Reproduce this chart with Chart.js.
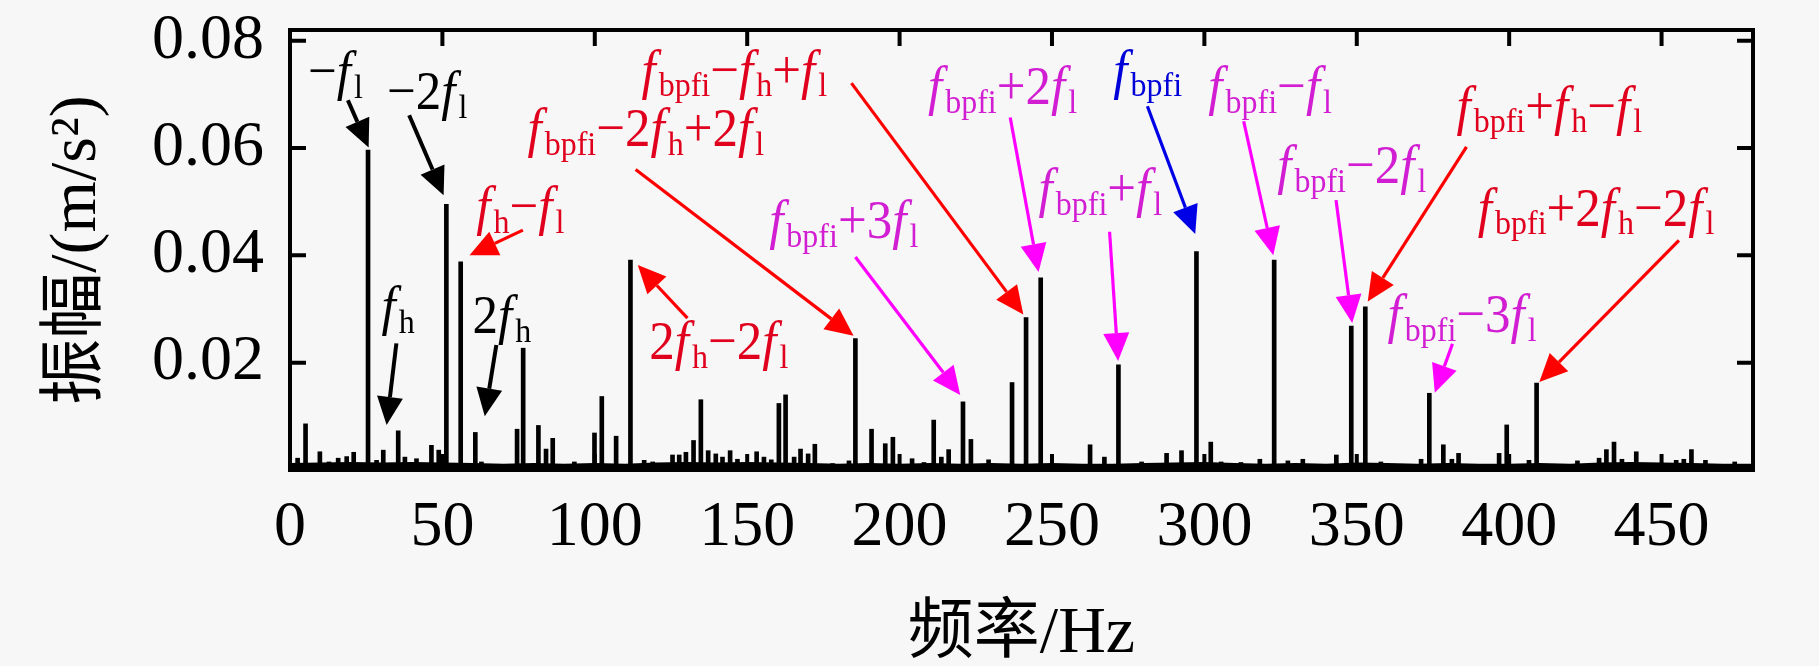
<!DOCTYPE html>
<html>
<head>
<meta charset="utf-8">
<script src="https://cdn.jsdelivr.net/npm/chart.js@4.4.0/dist/chart.umd.min.js"></script>
<style>
  html, body { margin: 0; padding: 0; background: #f7f7f7; }
  canvas { display: block; }
</style>
</head>
<body>
<canvas id="spectrumChart" width="1819" height="666"></canvas>
<script>
// spectrum lines (Hz / m/s^2)
const peakFreqs = [2.5, 5.1, 9.8, 12.8, 15.8, 18.6, 20.9, 25.6, 28.4, 30.6, 35.5, 37.7, 41.5, 46.4, 48.8,
  51.3, 56.0, 60.8, 62.8, 74.5, 76.5, 81.5, 84.0, 86.2, 93.3, 99.9, 102.3, 107.0, 111.7, 116.2, 119.0,
  125.5, 127.7, 129.9, 132.4, 134.8, 137.2, 139.7, 141.9, 144.4, 146.8, 153.1, 155.5, 157.9, 160.4,
  162.6, 165.4, 167.5, 170.0, 172.2, 178.0, 183.4, 185.5, 190.8, 195.3, 197.8, 204.1, 208.0, 211.2,
  213.7, 216.1, 220.8, 223.4, 229.2, 236.9, 241.5, 246.3, 262.5, 267.2, 271.8, 279.4, 287.6, 292.5,
  297.4, 302.1, 305.5, 312.0, 318.2, 322.9, 327.4, 332.3, 343.3, 348.2, 352.8, 357.9, 371.1, 373.8,
  378.4, 381.2, 383.4, 396.7, 399.2, 406.5, 409.0, 422.4, 429.5, 431.9, 434.4, 437.0, 441.7, 454.8,
  457.3, 459.8, 464.4, 474.0];
const peakAmps = [0.0022, 0.0086, 0.0034, 0.0015, 0.0022, 0.0025, 0.0033, 0.0596, 0.0018, 0.0037, 0.0073, 0.0024, 0.0021, 0.0046, 0.0037,
  0.0495, 0.0388, 0.0070, 0.0015, 0.0076, 0.0227, 0.0083, 0.0039, 0.0059, 0.0015, 0.0069, 0.0137, 0.0063, 0.0391, 0.0018, 0.0015,
  0.0028, 0.0028, 0.0033, 0.0055, 0.0131, 0.0036, 0.0030, 0.0024, 0.0036, 0.0020, 0.0034, 0.0024, 0.0019, 0.0124,
  0.0140, 0.0024, 0.0039, 0.0030, 0.0048, 0.0012, 0.0017, 0.0245, 0.0076, 0.0049, 0.0061, 0.0021, 0.0014, 0.0093,
  0.0024, 0.0038, 0.0127, 0.0057, 0.0019, 0.0163, 0.0284, 0.0358, 0.0047, 0.0024, 0.0196, 0.0015, 0.0031, 0.0036,
  0.0407, 0.0052, 0.0015, 0.0014, 0.0020, 0.0391, 0.0017, 0.0020, 0.0028, 0.0268, 0.0304, 0.0015, 0.0020, 0.0143,
  0.0047, 0.0020, 0.0031, 0.0031, 0.0084, 0.0018, 0.0162, 0.0017, 0.0022, 0.0038, 0.0052, 0.0020, 0.0034, 0.0018,
  0.0020, 0.0038, 0.0018, 0.0015];

// noise floor along the bottom
const floorFreqs = [0, 10, 20, 30, 40, 50, 60, 70, 80, 90, 100, 110, 120, 130, 140, 150, 160, 170, 180, 190,
  200, 210, 220, 230, 240, 250, 260, 270, 280, 290, 300, 310, 320, 330, 340, 350, 360, 370, 380, 390,
  400, 410, 420, 430, 440, 450, 460, 470, 480];
const floorAmps = [0.0011, 0.0012, 0.0013, 0.0012, 0.0013, 0.0012, 0.0011, 0.0010, 0.0011, 0.0010, 0.0011, 0.0010, 0.0012, 0.0013, 0.0012, 0.0013, 0.0012, 0.0011, 0.0010, 0.0011,
  0.0010, 0.0011, 0.0010, 0.0011, 0.0010, 0.0011, 0.0010, 0.0010, 0.0011, 0.0012, 0.0013, 0.0011, 0.0010, 0.0011, 0.0010, 0.0012, 0.0011, 0.0010, 0.0011, 0.0010,
  0.0010, 0.0011, 0.0010, 0.0012, 0.0013, 0.0012, 0.0011, 0.0010, 0.0010];

const xTickValues = [0, 50, 100, 150, 200, 250, 300, 350, 400, 450];
const yTickValues = [0.02, 0.04, 0.06, 0.08];

// annotation labels: text, colour, label position and arrow (all in Hz / amplitude)
const annoTexts = ['−f_{l}', '−2f_{l}', 'f_{h}−f_{l}', 'f_{h}', '2f_{h}', 'f_{bpfi}−2f_{h}+2f_{l}', '2f_{h}−2f_{l}',
  'f_{bpfi}−f_{h}+f_{l}', 'f_{bpfi}+3f_{l}', 'f_{bpfi}+2f_{l}', 'f_{bpfi}', 'f_{bpfi}+f_{l}', 'f_{bpfi}−f_{l}',
  'f_{bpfi}−2f_{l}', 'f_{bpfi}+f_{h}−f_{l}', 'f_{bpfi}+2f_{h}−2f_{l}', 'f_{bpfi}−3f_{l}'];
const annoColors = ['k', 'k', 'r', 'k', 'k', 'r', 'r', 'r', 'm', 'm', 'b', 'm', 'm', 'm', 'r', 'r', 'm'];
const annoTextPos = [[5.9, 0.0702], [31.8, 0.0665], [61.1, 0.0451], [30.0, 0.0265], [59.9, 0.0248], [77.9, 0.0596],
  [117.9, 0.0199], [115.3, 0.0705], [157.2, 0.0425], [209.3, 0.0674], [270.1, 0.0705], [245.6, 0.0484],
  [301.3, 0.0674], [323.9, 0.0527], [382.7, 0.0638], [389.7, 0.0448], [360.1, 0.0250]];
const annoArrowFrom = [[19.0, 0.0689], [39.1, 0.0661], [76.4, 0.0447], [34.9, 0.0236], [67.7, 0.0233], [113.4, 0.0560],
  [130.4, 0.0283], [184.2, 0.0721], [185.5, 0.0397], [236.3, 0.0657], [281.3, 0.0678], [268.9, 0.0444],
  [312.9, 0.0650], [343.2, 0.0503], [386.0, 0.0602], [455.7, 0.0428], [381.4, 0.0235]];
const annoArrowTo = [[25.8, 0.0601], [50.4, 0.0512], [58.9, 0.0400], [31.7, 0.0084], [63.9, 0.0100], [184.9, 0.0250],
  [114.1, 0.0382], [240.6, 0.0290], [219.9, 0.0140], [245.6, 0.0369], [297.0, 0.0440], [271.7, 0.0203],
  [322.6, 0.0400], [348.5, 0.0274], [353.6, 0.0314], [409.9, 0.0164], [375.6, 0.0144]];

const textColors = { k: '#000000', r: '#e0001e', m: '#d21ed2', b: '#0000d8' };
const arrowColors = { k: '#000000', r: '#ff0000', m: '#ff00ff', b: '#0000e6' };

const SERIF = '"Liberation Serif", "Times New Roman", serif';
const CJK = '"Liberation Serif", "Noto Sans CJK SC", serif';
const TICK_LEN = 16;
const NOTE_SIZE = 51;
const NOTE_LIFT = 4;

function parseLabel(str) {
  const parts = [];
  let i = 0;
  while (i < str.length) {
    const ch = str[i];
    if (ch === '_' && str[i + 1] === '{') {
      const end = str.indexOf('}', i);
      parts.push({ text: str.slice(i + 2, end), sub: true });
      i = end + 1;
    } else if (ch === 'f') {
      parts.push({ text: 'f', italic: true });
      i++;
    } else {
      parts.push({ text: ch });
      i++;
    }
  }
  return parts;
}

function drawRich(ctx, str, x, y, size, color) {
  ctx.save();
  ctx.translate(x, y - NOTE_LIFT);
  ctx.scale(1, 1.07);
  ctx.fillStyle = color;
  ctx.textBaseline = 'alphabetic';
  ctx.textAlign = 'left';
  let cx = 0;
  parseLabel(str).forEach(p => {
    if (p.sub) {
      ctx.font = `${Math.round(size * 0.62)}px ${SERIF}`;
      ctx.fillText(p.text, cx, size * 0.16);
    } else if (p.italic) {
      ctx.font = `italic ${size}px ${SERIF}`;
      ctx.fillText(p.text, cx, 0);
    } else {
      ctx.font = `${size}px ${SERIF}`;
      ctx.fillText(p.text, cx, 0);
    }
    cx += ctx.measureText(p.text).width + (p.italic ? size * 0.06 : 0);
  });
  ctx.restore();
}

function drawArrow(ctx, x1, y1, x2, y2, color, width) {
  const ang = Math.atan2(y2 - y1, x2 - x1);
  const headLen = 28, headHalf = 13;
  const bx = x2 - headLen * Math.cos(ang), by = y2 - headLen * Math.sin(ang);
  ctx.save();
  ctx.strokeStyle = color;
  ctx.fillStyle = color;
  ctx.lineWidth = width;
  ctx.beginPath();
  ctx.moveTo(x1, y1);
  ctx.lineTo(bx, by);
  ctx.stroke();
  ctx.beginPath();
  ctx.moveTo(x2, y2);
  ctx.lineTo(bx + headHalf * Math.sin(ang), by - headHalf * Math.cos(ang));
  ctx.lineTo(bx - headHalf * Math.sin(ang), by + headHalf * Math.cos(ang));
  ctx.closePath();
  ctx.fill();
  ctx.restore();
}

const frameAndNotes = {
  id: 'frameAndNotes',
  afterDatasetsDraw(chart) {
    const { ctx, chartArea: a, scales: { x, y } } = chart;
    ctx.save();
    ctx.strokeStyle = '#000';
    ctx.lineWidth = 4;
    ctx.strokeRect(a.left, a.top, a.right - a.left, a.bottom - a.top);
    ctx.beginPath();
    xTickValues.forEach(v => {
      const px = x.getPixelForValue(v);
      ctx.moveTo(px, a.top); ctx.lineTo(px, a.top + TICK_LEN);
      ctx.moveTo(px, a.bottom); ctx.lineTo(px, a.bottom - TICK_LEN);
    });
    yTickValues.forEach(v => {
      const py = y.getPixelForValue(v);
      ctx.moveTo(a.left, py); ctx.lineTo(a.left + TICK_LEN, py);
      ctx.moveTo(a.right, py); ctx.lineTo(a.right - TICK_LEN, py);
    });
    ctx.stroke();
    ctx.restore();

    annoTexts.forEach((txt, i) => {
      const c = annoColors[i];
      const from = annoArrowFrom[i], to = annoArrowTo[i], pos = annoTextPos[i];
      drawArrow(ctx,
        x.getPixelForValue(from[0]), y.getPixelForValue(from[1]),
        x.getPixelForValue(to[0]), y.getPixelForValue(to[1]),
        arrowColors[c], c === 'k' ? 4 : 3.2);
      drawRich(ctx, txt, x.getPixelForValue(pos[0]), y.getPixelForValue(pos[1]), NOTE_SIZE, textColors[c]);
    });
  }
};

const ctx = document.getElementById('spectrumChart');
new Chart(ctx, {
  type: 'bar',
  data: {
    datasets: [
      {
        label: 'peaks',
        data: peakFreqs.map((f, i) => ({ x: f, y: peakAmps[i] })),
        backgroundColor: '#000',
        borderWidth: 0,
        barThickness: 4,
        order: 1
      },
      {
        type: 'line',
        label: 'floor',
        data: floorFreqs.map((f, i) => ({ x: f, y: floorAmps[i] })),
        borderColor: '#000',
        backgroundColor: '#000',
        borderWidth: 2,
        pointRadius: 0,
        fill: 'origin',
        tension: 0,
        order: 2
      }
    ]
  },
  options: {
    responsive: false,
    animation: false,
    devicePixelRatio: 1,
    layout: { padding: { top: 30, right: 66, left: 0, bottom: 0 } },
    plugins: { legend: { display: false }, tooltip: { enabled: false } },
    scales: {
      x: {
        type: 'linear',
        offset: false,
        min: 0,
        max: 480,
        grid: { display: false, drawTicks: false, offset: false },
        border: { display: false },
        afterFit: scale => {
          scale.height = 196;
          scale.paddingLeft = 0;
          scale.paddingRight = 0;
        },
        ticks: {
          stepSize: 50,
          includeBounds: false,
          autoSkip: false,
          maxRotation: 0,
          padding: 20,
          color: '#000',
          font: { family: SERIF, size: 64 },
          callback: v => String(v)
        },
        title: {
          display: true,
          text: '频率/Hz',
          color: '#000',
          padding: { top: 0, bottom: -8 },
          font: { family: CJK, size: 66 }
        }
      },
      y: {
        min: 0,
        max: 0.082,
        grid: { display: false, drawTicks: false },
        border: { display: false },
        afterFit: scale => {
          scale.width = 290;
          scale.paddingTop = 0;
          scale.paddingBottom = 0;
        },
        ticks: {
          stepSize: 0.02,
          includeBounds: false,
          padding: 26,
          color: '#000',
          font: { family: SERIF, size: 64 },
          callback: v => (v === 0 ? '' : v.toFixed(2))
        },
        title: {
          display: true,
          text: '振幅/(m/s²)',
          color: '#000',
          padding: { top: 38, bottom: 0 },
          font: { family: CJK, size: 66 }
        }
      }
    }
  },
  plugins: [frameAndNotes]
});
</script>
</body>
</html>
